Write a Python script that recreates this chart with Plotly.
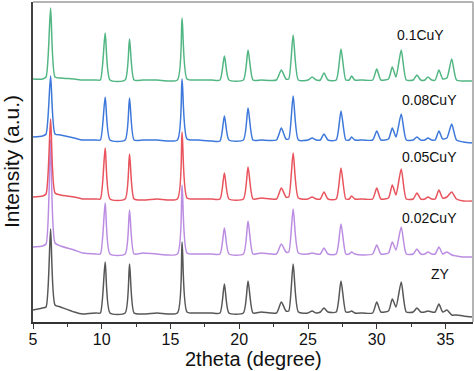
import plotly.graph_objects as go

# 2theta positions (degree) of the read points, shared by all patterns
two_theta = [5.0, 5.7, 5.95, 6.28, 6.6, 7.0, 8.0, 8.6, 9.6, 9.9, 10.25, 10.6, 11.7, 12.02, 12.35,
             13.0, 14.0, 15.5, 15.84, 16.2, 17.0, 18.0, 18.6, 18.92, 19.25, 20.3, 20.64, 21.0,
             21.6, 22.7, 23.06, 23.4, 23.6, 23.92, 24.3, 25.0, 25.3, 25.6, 25.9, 26.16, 26.45,
             27.05, 27.4, 27.75, 28.0, 28.17, 28.4, 29.0, 29.7, 30.0, 30.3, 30.85, 31.13, 31.4,
             31.78, 32.15, 32.65, 32.92, 33.2, 33.5, 33.72, 34.0, 34.25, 34.52, 34.8, 35.1,
             35.45, 35.8, 36.3, 37.0]

# intensities (a.u.) of each pattern, before stacking
zy = [12, 14, 15, 93, 17, 15, 10, 8, 9, 9, 60, 9, 9, 58, 9,
      8, 9, 9, 80, 10, 9, 9, 9, 38, 9, 9, 41, 9,
      10, 9, 20, 11, 11, 58, 10, 9, 11, 9, 10, 14, 10,
      10, 41, 10, 10, 11, 9, 9, 9, 20, 10, 11, 23, 15,
      40, 10, 10, 14, 10, 10, 11, 10, 10, 18, 10, 12,
      7, 7, 6, 5]
cu002 = [16, 17, 19, 123, 20, 17, 13, 10, 9, 9, 60, 9, 9, 53, 9,
         10, 9, 9, 78, 10, 9, 9, 9, 35, 9, 9, 42, 9,
         10, 9, 19, 11, 11, 54, 10, 9, 10, 9, 9, 15, 9,
         9, 39, 9, 9, 11, 9, 8, 9, 18, 9, 10, 21, 13,
         36, 9, 9, 14, 9, 9, 11, 9, 9, 16, 9, 11,
         8, 7, 6, 6]
cu005 = [11, 12, 14, 89, 15, 13, 11, 9, 9, 9, 60, 9, 9, 54, 9,
         8, 9, 9, 76, 10, 9, 9, 9, 35, 9, 9, 41, 9,
         10, 9, 20, 11, 11, 55, 10, 9, 11, 9, 9, 16, 9,
         9, 40, 9, 9, 12, 9, 9, 9, 20, 9, 10, 23, 13,
         39, 9, 9, 15, 9, 9, 11, 9, 9, 18, 10, 11,
         16, 9, 7, 7]
cu008 = [12, 13, 15, 73, 15, 14, 11, 9, 9, 9, 52, 9, 9, 51, 9,
         9, 9, 9, 70, 10, 9, 8, 8, 33, 9, 9, 41, 9,
         9, 9, 21, 10, 10, 53, 9, 9, 11, 9, 9, 15, 9,
         9, 38, 9, 9, 12, 9, 9, 9, 18, 9, 10, 21, 12,
         35, 9, 9, 12, 9, 9, 11, 9, 9, 18, 10, 11,
         25, 9, 7, 6]
cu01 = [10, 10, 12, 81, 12, 11, 10, 9, 9, 9, 56, 9, 9, 50, 9,
        9, 9, 9, 71, 10, 9, 9, 9, 33, 9, 9, 39, 9,
        9, 9, 19, 10, 10, 54, 9, 9, 12, 9, 9, 16, 9,
        9, 40, 9, 9, 13, 9, 9, 9, 20, 9, 10, 22, 12,
        39, 9, 9, 14, 9, 9, 12, 9, 9, 19, 10, 11,
        30, 9, 8, 8]

names = ["ZY", "0.02CuY", "0.05CuY", "0.08CuY", "0.1CuY"]
patterns = [zy, cu002, cu005, cu008, cu01]
offsets = [0, 59, 114, 173, 233]
colors = ["#575757", "#bb8de2", "#e8535c", "#3d78da", "#52b683"]

# label anchor points (2theta, stacked intensity)
label_x = [34.63, 33.87, 33.83, 33.8, 33.18]
label_y = [48, 104, 165, 222, 287]

fig = go.Figure()
for name, pat, off, col in zip(names, patterns, offsets, colors):
    fig.add_trace(go.Scatter(
        x=two_theta, y=[v + off for v in pat], mode="lines", name=name,
        line=dict(color=col, width=1.5, shape="spline", smoothing=0.6),
        showlegend=False))

for name, lx, ly in zip(names, label_x, label_y):
    fig.add_annotation(x=lx, y=ly, text=name, showarrow=False,
                       font=dict(size=14, color="#111"), xanchor="center", yanchor="middle")

fig.add_annotation(xref="paper", yref="paper", x=-0.05, y=0.5, text="Intensity (a.u.)",
                   textangle=-90, showarrow=False, font=dict(size=21, color="#111"),
                   xanchor="center", yanchor="middle")
fig.add_annotation(xref="paper", yref="paper", x=0.5, y=-0.115, text="2theta (degree)",
                   showarrow=False, font=dict(size=20, color="#111"),
                   xanchor="center", yanchor="middle")

fig.add_shape(type="line", xref="paper", yref="paper", x0=0, x1=1, y0=1, y1=1,
              line=dict(color="#b4b4b4", width=2))
fig.add_shape(type="line", xref="paper", yref="paper", x0=1, x1=1, y0=0, y1=1,
              line=dict(color="#b4b4b4", width=2))

fig.update_layout(
    width=474, height=371,
    margin=dict(l=33, r=1, t=2, b=49),
    paper_bgcolor="white", plot_bgcolor="white",
    font=dict(family="Liberation Sans, Arial, sans-serif", color="#111"),
    xaxis=dict(range=[5, 37], tickvals=[5, 10, 15, 20, 25, 30, 35], ticks="outside",
               ticklen=5, tickwidth=1.3, tickcolor="#333", showline=True, linecolor="#333",
               linewidth=1.5, showgrid=False, zeroline=False, tickfont=dict(size=16, color="#111"),
               ticklabelstandoff=-3,
               minor=dict(tickvals=[7.5, 12.5, 17.5, 22.5, 27.5, 32.5], ticks="outside",
                          ticklen=3, tickwidth=1.2, tickcolor="#333")),
    yaxis=dict(range=[0, 320], showticklabels=False, ticks="", showline=True,
               linecolor="#444", linewidth=2, showgrid=False, zeroline=False),
)

fig.write_html("out.html", config={"displayModeBar": False},
               post_script="document.body.style.margin='0px';document.body.style.overflow='hidden';")
